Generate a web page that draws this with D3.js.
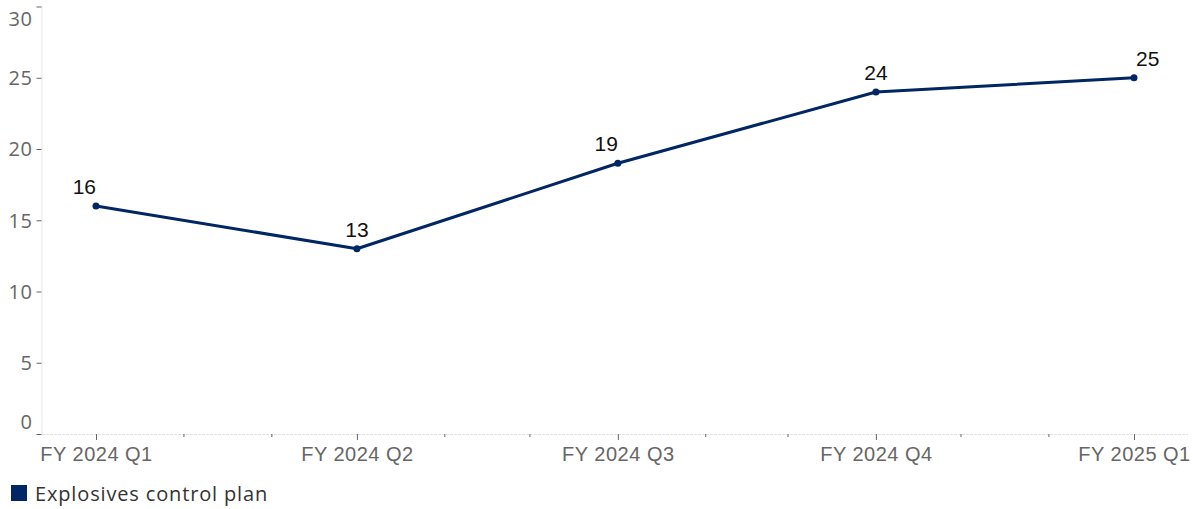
<!DOCTYPE html>
<html>
<head>
<meta charset="utf-8">
<script src="https://cdn.jsdelivr.net/npm/d3@7"></script>
<style>
  html, body { margin: 0; padding: 0; background: #fff; }
  svg { display: block; font-family: "Open Sans", Roboto, sans-serif; }
</style>
</head>
<body>
<svg id="chart" width="1193" height="509"></svg>
<script>
const categories = ["FY 2024 Q1", "FY 2024 Q2", "FY 2024 Q3", "FY 2024 Q4", "FY 2025 Q1"];
const quarterStarts = ["2023-07-01", "2023-10-01", "2024-01-01", "2024-04-01", "2024-07-01"];
const values = [16, 13, 19, 24, 25];
const seriesName = "Explosives control plan";
const yTicks = [0, 5, 10, 15, 20, 25, 30];
const labelAnchors = ["end", "middle", "end", "middle", "start"];

const W = 1193, H = 509;
const plotLeft = 42, plotRight = 1188;
const svg = d3.select("#chart");
const lineColor = "#002663";
const parse = d3.utcParse("%Y-%m-%d");
const dates = quarterStarts.map(parse);

const x = d3.scaleUtc().domain([dates[0], dates[dates.length - 1]]).range([96, 1134]);
const y = d3.scaleLinear().domain([0, 30]).range([434, 6.5]);
const y0 = y(0);

// y axis line
svg.append("line")
  .attr("x1", plotLeft).attr("x2", plotLeft)
  .attr("y1", y(30) - 1).attr("y2", y0)
  .attr("stroke", "#e8e8e8").attr("stroke-width", 1);

// x baseline (dashed light)
svg.append("line")
  .attr("x1", plotLeft).attr("x2", plotRight)
  .attr("y1", y0 + 0.5).attr("y2", y0 + 0.5)
  .attr("stroke", "#e2e2e2").attr("stroke-width", 1)
  .attr("stroke-dasharray", "3,1");

// y axis
const yAxis = d3.axisLeft(y).tickValues(yTicks).tickSize(5).tickPadding(4);
const gy = svg.append("g").attr("transform", `translate(${plotLeft - 0.5},0)`).call(yAxis);
gy.select(".domain").remove();
gy.selectAll(".tick line").attr("stroke", "#666");
gy.selectAll(".tick text")
  .attr("fill", "#666").attr("font-size", 20).attr("font-family", "Open Sans")
  .attr("letter-spacing", "0.6px")
  .attr("dy", d => d === 30 ? "0.95em" : d === 0 ? "-0.28em" : "0.34em");

// x axis (major, quarterly)
const xAxis = d3.axisBottom(x).tickValues(dates).tickSize(6).tickPadding(5)
  .tickFormat((d, i) => categories[i]);
const gx = svg.append("g").attr("transform", `translate(0,${y0})`).call(xAxis);
gx.select(".domain").remove();
gx.selectAll(".tick line").attr("stroke", "#666");
gx.selectAll(".tick text").attr("fill", "#666").attr("font-size", 20).attr("dy", "0.82em")
  .attr("letter-spacing", "0.5px");

// minor ticks (monthly)
const quarterSet = new Set(dates.map(d => +d));
const minor = d3.utcMonth.range(dates[0], dates[dates.length - 1]).filter(d => !quarterSet.has(+d));
svg.append("g").selectAll("line").data(minor).join("line")
  .attr("x1", d => x(d)).attr("x2", d => x(d))
  .attr("y1", y0).attr("y2", y0 + 3)
  .attr("stroke", "#666").attr("stroke-width", 1);

// line
const line = d3.line().x((d, i) => x(dates[i])).y(d => y(d));
svg.append("path").datum(values)
  .attr("d", line).attr("fill", "none")
  .attr("stroke", lineColor).attr("stroke-width", 3).attr("stroke-linejoin", "round");

svg.append("g").selectAll("circle").data(values).join("circle")
  .attr("cx", (d, i) => x(dates[i])).attr("cy", d => y(d))
  .attr("r", 3.5).attr("fill", lineColor);

svg.append("g").selectAll("text").data(values).join("text")
  .attr("x", (d, i) => x(dates[i]) + (labelAnchors[i] === "start" ? 2 : 0))
  .attr("y", d => y(d) - 12)
  .attr("text-anchor", (d, i) => labelAnchors[i])
  .attr("font-family", "'Liberation Sans', Arial, sans-serif")
  .attr("font-size", 21).attr("fill", "#111")
  .text(d => d);

// legend
const lg = svg.append("g").attr("transform", "translate(11,485)");
lg.append("rect").attr("width", 16).attr("height", 16).attr("fill", lineColor);
lg.append("text").attr("x", 24).attr("y", 15.5).attr("font-size", 20).attr("fill", "#333")
  .attr("letter-spacing", "0.85px").text(seriesName);
</script>
</body>
</html>
